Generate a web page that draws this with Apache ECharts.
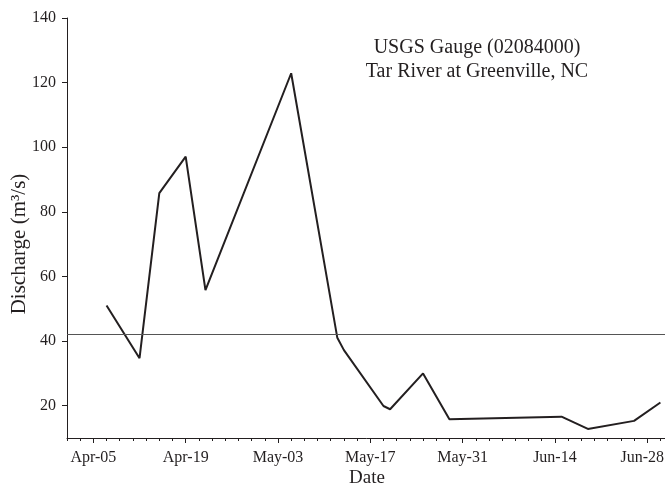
<!DOCTYPE html>
<html>
<head>
<meta charset="utf-8">
<script src="https://cdn.jsdelivr.net/npm/echarts@6/dist/echarts.min.js"></script>
<style>
  html, body { margin: 0; padding: 0; background: #fff; }
  #chart { width: 665px; height: 484px; }
</style>
</head>
<body>
<div id="chart"></div>
<script>
// Daily discharge readings (month-day) and values in m³/s
const dates = ['04-07', '04-12', '04-15', '04-19', '04-22', '05-05', '05-12', '05-13',
               '05-19', '05-20', '05-25', '05-29', '06-15', '06-19', '06-26', '06-30'];
const discharge = [51.0, 34.7, 85.8, 97.1, 55.8, 122.9, 41.0, 37.2,
                   19.9, 18.9, 30.0, 15.8, 16.6, 12.8, 15.3, 21.0];
const xTickLabels = ['Apr-05', 'Apr-19', 'May-03', 'May-17', 'May-31', 'Jun-14', 'Jun-28'];
const yTicks = [20, 40, 60, 80, 100, 120, 140];
const referenceLevel = 42.2;
const axisStart = '04-01';
const axisEnd = '07-01';

const MONTHS = { Jan: 1, Feb: 2, Mar: 3, Apr: 4, May: 5, Jun: 6, Jul: 7, Aug: 8, Sep: 9, Oct: 10, Nov: 11, Dec: 12 };
const YEAR = 2001;
const origin = Date.UTC(YEAR, 3, 5);
// day number counted from Apr-05
function dayOf(month, day) {
  return Math.round((Date.UTC(YEAR, month - 1, day) - origin) / 86400000);
}
function dayFromMD(md) {
  const [m, d] = md.split('-').map(Number);
  return dayOf(m, d);
}
function dayFromLabel(lbl) {
  const [mon, d] = lbl.split('-');
  return dayOf(MONTHS[mon], Number(d));
}

const majorDays = xTickLabels.map(dayFromLabel);
const labelByDay = {};
xTickLabels.forEach((l, i) => { labelByDay[majorDays[i]] = l; });
const lastMajor = majorDays[majorDays.length - 1];
const points = dates.map((d, i) => [dayFromMD(d), discharge[i]]);

const ink = '#231f20';
const font = 'Liberation Serif';
const xMin = dayFromMD(axisStart);
const xMax = dayFromMD(axisEnd);

const chart = echarts.init(document.getElementById('chart'));
chart.setOption({
  animation: false,
  backgroundColor: '#fff',
  grid: { left: 67, right: -2, top: 18, bottom: 46, containLabel: false, outerBoundsMode: 'none' },
  xAxis: [
    {
      type: 'value', min: xMin, max: xMax, interval: 2,
      name: 'Date', nameLocation: 'middle', nameGap: 31, nameMoveOverlap: false,
      nameTextStyle: { fontFamily: font, fontSize: 19, color: ink },
      axisLine: { show: true, onZero: false, lineStyle: { color: ink, width: 1 } },
      axisTick: { show: true, length: 3, lineStyle: { color: ink } },
      axisLabel: {
        customValues: majorDays, fontFamily: font, fontSize: 16, color: ink, margin: 12,
        // the last date label is nudged left so it stays inside the frame
        formatter: v => (v === lastMajor ? '{edge|' + labelByDay[v] + '}' : (labelByDay[v] || '')),
        rich: { edge: { fontFamily: font, fontSize: 16, color: ink, padding: [0, 10, 0, 0] } }
      },
      splitLine: { show: false }
    },
    {
      type: 'value', min: xMin, max: xMax, position: 'bottom',
      axisLine: { show: false, onZero: false },
      axisTick: { show: true, customValues: majorDays, length: 5, lineStyle: { color: ink } },
      axisLabel: { show: false },
      splitLine: { show: false }
    }
  ],
  yAxis: {
    type: 'value', min: 10, max: 140,
    axisLine: { show: true, onZero: false, lineStyle: { color: ink, width: 1 } },
    axisTick: { show: true, customValues: yTicks, length: 5, lineStyle: { color: ink } },
    axisLabel: { customValues: yTicks, fontFamily: font, fontSize: 16, color: ink, margin: 11 },
    splitLine: { show: false }
  },
  graphic: [
    {
      type: 'text', x: 477, y: 36,
      style: {
        text: 'USGS Gauge (02084000)\nTar River at Greenville, NC',
        fontFamily: font, fontSize: 20, lineHeight: 24, fill: ink, align: 'center'
      }
    },
    {
      // vertical axis title
      type: 'text', x: 19, y: 244, rotation: Math.PI / 2,
      style: {
        text: 'Discharge (m³/s)',
        fontFamily: font, fontSize: 21, fill: ink, align: 'center', verticalAlign: 'middle'
      }
    }
  ],
  series: [{
    type: 'line',
    data: points,
    showSymbol: false,
    lineStyle: { color: ink, width: 2 },
    markLine: {
      silent: true, symbol: 'none',
      label: { show: false },
      lineStyle: { color: '#555', width: 1.2, type: 'solid' },
      data: [{ yAxis: referenceLevel }]
    }
  }]
});
</script>
</body>
</html>
